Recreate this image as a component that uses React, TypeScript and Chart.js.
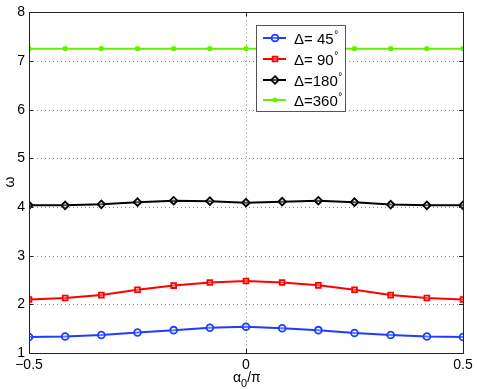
import React, { useEffect, useRef } from "react";
import { Chart, registerables } from "chart.js";

Chart.register(...registerables);

const xValues = [-0.5, -0.4167, -0.3333, -0.25, -0.1667, -0.0833, 0, 0.0833, 0.1667, 0.25, 0.3333, 0.4167, 0.5];
const d45 = [1.33, 1.34, 1.37, 1.42, 1.47, 1.52, 1.54, 1.51, 1.47, 1.41, 1.37, 1.34, 1.33];
const d90 = [2.1, 2.13, 2.19, 2.3, 2.385, 2.45, 2.48, 2.45, 2.39, 2.3, 2.19, 2.13, 2.1];
const d180 = [4.035, 4.035, 4.055, 4.1, 4.13, 4.12, 4.09, 4.11, 4.13, 4.1, 4.05, 4.035, 4.035];
const d360 = [7.255, 7.255, 7.255, 7.255, 7.255, 7.255, 7.255, 7.255, 7.255, 7.255, 7.255, 7.255, 7.255];
const seriesLabels = ["45", "90", "180", "360"];
const xTicks = [-0.5, 0, 0.5];
const yTicks = [1, 2, 3, 4, 5, 6, 7, 8];

const FONT = "'Liberation Sans', Arial, sans-serif";

const colors = ["#1f3cff", "#ff0000", "#000000", "#66f000"];
const shapes = ["circle", "rect", "rectRot", "rect"];

function drawPoint(ctx: any, style: string, r: number, x: number, y: number) {
  ctx.beginPath();
  if (style === "circle") {
    ctx.arc(x, y, r, 0, Math.PI * 2);
  } else if (style === "rect") {
    const s = r * Math.SQRT1_2 * 2;
    ctx.rect(x - s / 2, y - s / 2, s, s);
  } else if (style === "rectRot") {
    ctx.moveTo(x, y - r); ctx.lineTo(x + r, y); ctx.lineTo(x, y + r); ctx.lineTo(x - r, y); ctx.closePath();
  }
  ctx.fill();
  ctx.stroke();
}

export default function App() {
  const ref = useRef<HTMLCanvasElement>(null);
  useEffect(() => {
    document.body.style.margin = "0";
    const all = [d45, d90, d180, d360];
    const datasets = all.map((arr, i) => ({
      label: "Δ=" + seriesLabels[i],
      data: arr.map((v, k) => ({ x: xValues[k], y: v })),
      borderColor: colors[i],
      backgroundColor: i === 3 ? colors[i] : "rgba(255,255,255,0)",
      pointBorderColor: colors[i],
      pointBackgroundColor: i === 3 ? colors[i] : "rgba(255,255,255,0.3)",
      pointStyle: shapes[i],
      pointRadius: i === 3 ? 2.6 : i === 2 ? 3.8 : 3.4,
      pointBorderWidth: i === 3 ? 1 : 1.8,
      borderWidth: 2,
      tension: 0,
    }));

    const gridPlugin = {
      id: "dottedGrid",
      beforeDatasetsDraw(chart: any) {
        const ctx = chart.ctx;
        const a = chart.chartArea;
        const xs = chart.scales.x;
        const ys = chart.scales.y;
        ctx.save();
        ctx.strokeStyle = "#8a8a8a";
        ctx.lineWidth = 1;
        ctx.setLineDash([1, 3]);
        ctx.beginPath();
        yTicks.slice(1, -1).forEach((t) => {
          const y = Math.round(ys.getPixelForValue(t)) + 0.5;
          ctx.moveTo(a.left, y); ctx.lineTo(a.right, y);
        });
        xTicks.slice(1, -1).forEach((t) => {
          const x = Math.round(xs.getPixelForValue(t)) + 0.5;
          ctx.moveTo(x, a.top); ctx.lineTo(x, a.bottom);
        });
        ctx.stroke();
        ctx.restore();
      },
    };

    const overlay = {
      id: "overlay",
      afterDraw(chart: any) {
        const ctx = chart.ctx;
        const a = chart.chartArea;
        const xs = chart.scales.x;
        const ys = chart.scales.y;
        ctx.save();
        ctx.strokeStyle = "#222";
        ctx.lineWidth = 1;
        ctx.strokeRect(Math.round(a.left) + 0.5, Math.round(a.top) + 0.5, Math.round(a.right - a.left), Math.round(a.bottom - a.top));
        ctx.beginPath();
        yTicks.forEach((t) => {
          const y = Math.round(ys.getPixelForValue(t)) + 0.5;
          ctx.moveTo(a.left, y); ctx.lineTo(a.left + 4, y);
          ctx.moveTo(a.right, y); ctx.lineTo(a.right - 4, y);
        });
        xTicks.forEach((t) => {
          const x = Math.round(xs.getPixelForValue(t)) + 0.5;
          ctx.moveTo(x, a.bottom); ctx.lineTo(x, a.bottom - 4);
          ctx.moveTo(x, a.top); ctx.lineTo(x, a.top + 4);
        });
        ctx.stroke();

        ctx.fillStyle = "#000";
        ctx.font = `14px ${FONT}`;
        ctx.textBaseline = "middle";
        ctx.textAlign = "center";
        ctx.save();
        ctx.translate(10, 182);
        ctx.rotate(-Math.PI / 2);
        ctx.fillText("ω", 0, 0);
        ctx.restore();

        ctx.textAlign = "left";
        ctx.textBaseline = "alphabetic";
        ctx.font = `14px ${FONT}`;
        let x0 = 233;
        ctx.fillText("α", x0, 382);
        x0 += ctx.measureText("α").width;
        ctx.font = `11px ${FONT}`;
        ctx.fillText("0", x0, 387);
        x0 += ctx.measureText("0").width;
        ctx.font = `14px ${FONT}`;
        ctx.fillText("/π", x0, 382);

        const lx = 256, ly = 25, lw = 89, lh = 86;
        ctx.fillStyle = "#fff";
        ctx.fillRect(lx, ly, lw, lh);
        ctx.strokeStyle = "#555";
        ctx.lineWidth = 1;
        ctx.strokeRect(lx + 0.5, ly + 0.5, lw, lh);
        const rows = [38, 59, 80, 100];
        rows.forEach((ry, i) => {
          ctx.strokeStyle = colors[i];
          ctx.lineWidth = 2;
          ctx.beginPath();
          ctx.moveTo(263, ry); ctx.lineTo(286, ry);
          ctx.stroke();
          const ds = chart.data.datasets[i];
          ctx.fillStyle = ds.pointBackgroundColor;
          ctx.strokeStyle = colors[i];
          ctx.lineWidth = ds.pointBorderWidth;
          drawPoint(ctx, shapes[i], ds.pointRadius, 275, ry);
          ctx.fillStyle = "#000";
          ctx.font = `15px ${FONT}`;
          ctx.textBaseline = "alphabetic";
          ctx.textAlign = "left";
          const lab = seriesLabels[i].length === 2 ? "Δ= " + seriesLabels[i] : "Δ=" + seriesLabels[i];
          ctx.fillText(lab, 294, ry + 6);
          const w = ctx.measureText(lab).width;
          ctx.font = `10px ${FONT}`;
          ctx.fillText("°", 294 + w + 0.5, ry - 0);
        });
        ctx.restore();
      },
    };

    const chart = new Chart(ref.current!, {
      type: "line",
      data: { datasets: datasets as any },
      plugins: [gridPlugin, overlay],
      options: {
        animation: false,
        responsive: false,
        layout: { padding: { top: 11, right: 14, left: 0, bottom: 0 } },
        plugins: { legend: { display: false }, tooltip: { enabled: false } },
        scales: {
          x: {
            type: "linear",
            min: -0.5,
            max: 0.5,
            afterBuildTicks: (s: any) => { s.ticks = xTicks.map((v) => ({ value: v })); },
            afterFit: (s: any) => { s.height = 36; },
            border: { display: false },
            grid: { display: false, drawTicks: false },
            ticks: {
              color: "#000",
              font: { family: FONT, size: 14 },
              padding: 4,
              maxRotation: 0,
              callback: (v: any) => (v < 0 ? "−" + Math.abs(v) : String(v)),
            },
          },
          y: {
            type: "linear",
            min: 1,
            max: 8,
            afterBuildTicks: (s: any) => { s.ticks = yTicks.map((v) => ({ value: v })); },
            afterFit: (s: any) => { s.width = 29; },
            border: { display: false },
            grid: { display: false, drawTicks: false },
            ticks: {
              color: "#000",
              font: { family: FONT, size: 14 },
              padding: 4,
            },
          },
        },
      } as any,
    });
    return () => chart.destroy();
  }, []);
  return (
    <div style={{ position: "relative", width: 477, height: 389 }}>
      <canvas ref={ref} width={477} height={389} style={{ width: 477, height: 389, display: "block" }} />
    </div>
  );
}
